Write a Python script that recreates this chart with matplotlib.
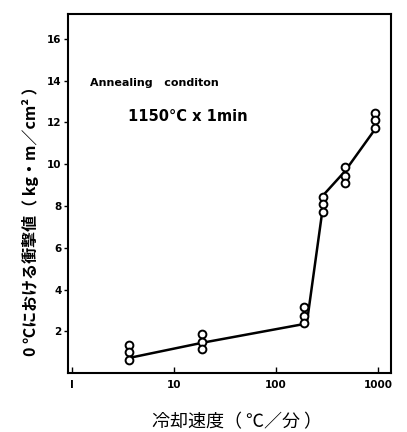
import matplotlib.pyplot as plt

plt.rcParams['font.family'] = ['Noto Sans CJK JP', 'DejaVu Sans']

# measured points (three specimens per cooling rate)
rates = [3.6, 19, 190, 290, 470, 940]
impact = [
    [1.35, 1.00, 0.65],
    [1.88, 1.50, 1.15],
    [3.15, 2.76, 2.39],
    [8.45, 8.10, 7.73],
    [9.86, 9.46, 9.10],
    [12.45, 12.10, 11.75],
]

# trend line drawn through the groups
line_rate = [3.7, 19, 200, 300, 470, 940]
line_val = [0.74, 1.46, 2.38, 8.6, 9.65, 11.7]

y_ticks = [2, 4, 6, 8, 10, 12, 14, 16]
x_ticks = [1, 10, 100, 1000]
x_labels = ['I', '10', '100', '1000']


def main():
    fig = plt.figure(figsize=(4.07, 4.32), dpi=100)
    ax = fig.add_axes([0.168, 0.136, 0.793, 0.832])

    ax.plot(line_rate, line_val, '-', color='black', lw=1.8, zorder=2)
    for r, vals in zip(rates, impact):
        ax.plot([r] * len(vals), vals, 'o', ms=5.6, mfc='white', mec='black',
                mew=1.4, zorder=3)

    ax.set_xscale('log')
    ax.set_xlim(0.926, 1340)
    ax.set_ylim(0, 17.2)
    ax.set_xticks(x_ticks)
    ax.set_xticklabels(x_labels)
    ax.minorticks_off()
    ax.set_yticks(y_ticks)
    ax.tick_params(axis='x', direction='in', length=4, width=1, labelsize=7.5, pad=5)
    ax.tick_params(axis='y', direction='out', length=3, width=1, labelsize=7.5, pad=2)
    for lab in ax.get_xticklabels() + ax.get_yticklabels():
        lab.set_fontweight('bold')
        lab.set_family('DejaVu Sans')
    for sp in ax.spines.values():
        sp.set_linewidth(1.5)

    fig.text(90 / 407, 1 - 83 / 432, 'Annealing   conditon', fontsize=8,
             fontweight='bold', family='DejaVu Sans', va='center')
    fig.text(128 / 407, 1 - 117 / 432, '1150°C x 1min', fontsize=10.5,
             fontweight='bold', family='DejaVu Sans', va='center')

    fig.text(30 / 407, 1 - 217 / 432, '0 ℃における衝撃値（ kg・m／cm² ）',
             rotation=90, fontsize=11.5, fontweight='bold', ha='center', va='center')
    fig.text(237 / 407, 1 - 422 / 432, '冷却速度（ ℃／分 ）', fontsize=13,
             ha='center', va='center')

    fig.savefig('out.png', dpi=100)


if __name__ == "__main__":
    main()
